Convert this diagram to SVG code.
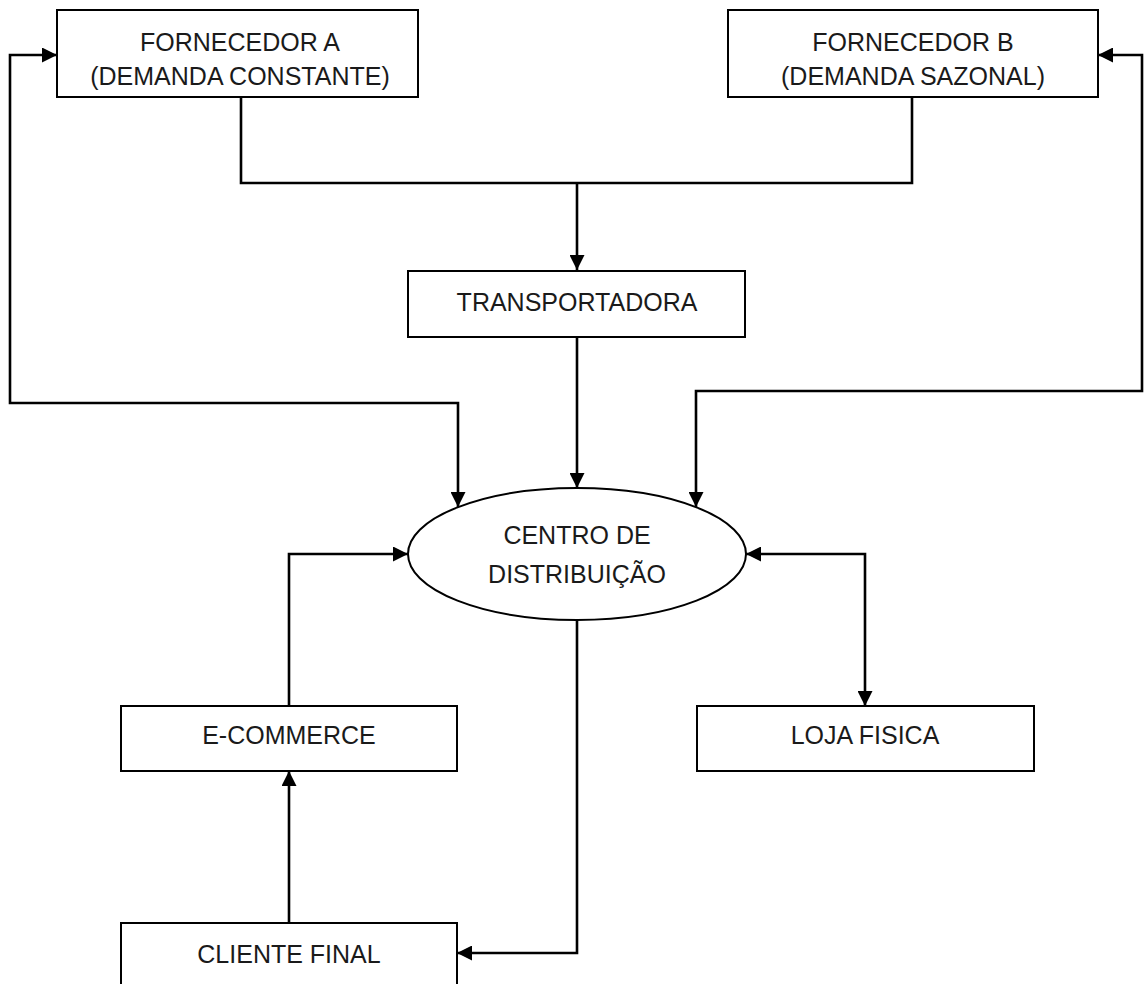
<svg xmlns="http://www.w3.org/2000/svg" width="1144" height="984" viewBox="0 0 1144 984">
<style>
.box{fill:#fff;stroke:#000;stroke-width:2}
.lbl{font-family:"Liberation Sans",Arial,sans-serif;font-size:25px;fill:#1a1a1a;text-anchor:middle}
.c{fill:none;stroke:#000;stroke-width:2.6}
</style>
<defs>
<marker id="ah" viewBox="0 0 15 15" markerWidth="15" markerHeight="15" refX="15" refY="7.5" orient="auto-start-reverse" markerUnits="userSpaceOnUse">
<path d="M0,0 L15,7.5 L0,15 z" fill="#000"/>
</marker>
</defs>
<rect width="1144" height="984" fill="#fff"/>
<g id="connectors">
<path class="c" d="M241,97 V183 H912 V97"/>
<path class="c" d="M577,183 V270" marker-end="url(#ah)"/>
<path class="c" d="M577,337 V488" marker-end="url(#ah)"/>
<path class="c" d="M57,55 H10 V403 H458 V507" marker-start="url(#ah)" marker-end="url(#ah)"/>
<path class="c" d="M1098,55 H1142 V391 H696 V507" marker-start="url(#ah)" marker-end="url(#ah)"/>
<path class="c" d="M289,706 V554 H408" marker-end="url(#ah)"/>
<path class="c" d="M289,923 V771" marker-end="url(#ah)"/>
<path class="c" d="M577,620 V953 H457" marker-end="url(#ah)"/>
<path class="c" d="M746,554 H865 V706" marker-start="url(#ah)" marker-end="url(#ah)"/>
</g>
<g id="fornecedor-a">
<rect class="box" x="57" y="10" width="361" height="87"/>
<text class="lbl" x="240" y="51">FORNECEDOR A</text>
<text class="lbl" x="240" y="85">(DEMANDA CONSTANTE)</text>
</g>
<g id="fornecedor-b">
<rect class="box" x="728" y="10" width="370" height="87"/>
<text class="lbl" x="913" y="51">FORNECEDOR B</text>
<text class="lbl" x="913" y="85">(DEMANDA SAZONAL)</text>
</g>
<g id="transportadora">
<rect class="box" x="408" y="271" width="337" height="66"/>
<text class="lbl" x="577" y="311">TRANSPORTADORA</text>
</g>
<g id="centro">
<ellipse class="box" cx="577" cy="554" rx="169" ry="66"/>
<text class="lbl" x="577" y="544">CENTRO DE</text>
<text class="lbl" x="577" y="583">DISTRIBUIÇÃO</text>
</g>
<g id="ecommerce">
<rect class="box" x="121" y="706" width="336" height="65"/>
<text class="lbl" x="289" y="744">E-COMMERCE</text>
</g>
<g id="loja">
<rect class="box" x="697" y="706" width="337" height="65"/>
<text class="lbl" x="865" y="744">LOJA FISICA</text>
</g>
<g id="cliente">
<rect class="box" x="121" y="923" width="336" height="70"/>
<text class="lbl" x="289" y="963">CLIENTE FINAL</text>
</g>
</svg>
